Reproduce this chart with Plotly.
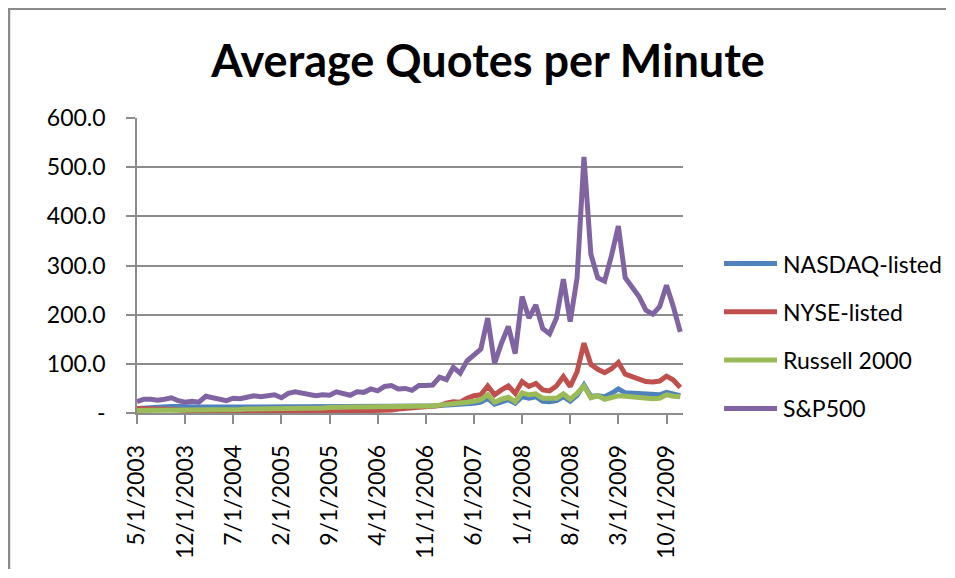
import pandas as pd
import plotly.graph_objects as go

# Monthly categories, 5/1/2003 .. 12/1/2009
months = [f"{d.month}/1/{d.year}" for d in pd.date_range("2003-05-01", "2009-12-01", freq="MS")]
tick_labels = months[::7]

nasdaq = [9, 10, 11, 13, 13, 13, 13, 12, 12, 12, 12, 12, 12, 12, 12, 12, 13, 13, 13, 13,
          14, 14, 14, 13, 13, 12, 12, 12, 13, 13, 13, 13, 13, 13, 13, 14, 14, 14, 14, 14,
          14, 14, 14, 14, 15, 16, 15, 17, 19, 20, 22, 30, 18, 23, 27, 20, 33, 30, 33, 24,
          23, 25, 33, 24, 36, 57, 34, 35, 33, 40, 49, 41, 40, 39, 38, 37, 37, 42, 38, 35]
nyse = [9, 9, 9, 9, 8, 7, 6, 5, 4, 3, 3, 2, 3, 3, 2, 3, 3, 2, 3, 3,
        2, 3, 3, 4, 3, 3, 2, 3, 3, 3, 2, 3, 3, 4, 5, 5, 5, 6, 8, 9,
        10, 11, 11, 12, 15, 20, 23, 22, 30, 35, 37, 55, 37, 47, 55, 40, 64, 54, 60, 47,
        45, 55, 74, 54, 84, 142, 99, 89, 82, 90, 103, 79, 74, 68, 64, 63, 65, 75, 67, 52]
russell = [5, 5, 6, 6, 6, 6, 6, 6, 6, 6, 6, 7, 7, 7, 7, 7, 8, 8, 8, 8,
           8, 8, 8, 8, 8, 8, 8, 10, 11, 12, 12, 12, 12, 12, 13, 13, 14, 14, 14, 14,
           14, 14, 14, 14, 16, 17, 18, 20, 22, 24, 27, 37, 22, 28, 32, 23, 41, 37, 39, 30,
           29, 30, 39, 28, 40, 55, 31, 35, 28, 31, 35, 34, 33, 31, 29, 29, 30, 37, 34, 33]
sp500 = [23, 28, 28, 26, 28, 31, 25, 22, 24, 22, 34, 31, 28, 25, 30, 29, 32, 35, 33, 35,
         37, 31, 40, 43, 41, 38, 35, 37, 36, 43, 39, 36, 43, 42, 49, 45, 54, 56, 49, 50,
         46, 56, 56, 57, 73, 68, 93, 81, 106, 118, 130, 193, 101, 142, 176, 121, 237, 193, 220, 172,
         161, 193, 272, 186, 275, 521, 323, 275, 268, 320, 380, 275, 256, 237, 209, 201, 216, 260, 216, 165]

series_names = ["NASDAQ-listed", "NYSE-listed", "Russell 2000", "S&P500"]
series_values = [nasdaq, nyse, russell, sp500]
series_colors = ["#4F81BD", "#C0504D", "#9BBB59", "#8064A2"]

y_tickvals = [0, 100, 200, 300, 400, 500, 600]
y_ticktext = ["-", "100.0", "200.0", "300.0", "400.0", "500.0", "600.0"]

FONT = "Lato"
GRID = "#8C8C8C"

# page has an 8px body margin, so the figure is drawn 8px in from the top-left;
# keep the figure inside the window so no scrollbars appear
W, H = 939, 562
L, T = 129, 110
PW, PH = 546, 295
R, B = W - L - PW, H - T - PH


def px_x(page_x):
    return (page_x - 8 - L) / PW


def px_y(page_y):
    return (PH + T - (page_y - 8)) / PH


fig = go.Figure()
for name, vals, col in zip(series_names, series_values, series_colors):
    fig.add_trace(go.Scatter(
        x=months, y=vals, name=name, mode="lines",
        line=dict(color=col, width=5),
        showlegend=False,
    ))

# chart-area border (left and top edges) and Excel-style legend
shapes = [
    dict(type="line", xref="paper", yref="paper", x0=px_x(9), x1=px_x(9),
         y0=px_y(6), y1=px_y(569), line=dict(color="#8A8A8A", width=2.5)),
    dict(type="line", xref="paper", yref="paper", x0=px_x(8), x1=px_x(946),
         y0=px_y(8.5), y1=px_y(8.5), line=dict(color="#8A8A8A", width=3)),
]
annotations = []
for k, (name, col) in enumerate(zip(series_names, series_colors)):
    yc = 263.5 + k * 48.3
    shapes.append(dict(type="line", xref="paper", yref="paper",
                       x0=px_x(724), x1=px_x(777), y0=px_y(yc), y1=px_y(yc),
                       line=dict(color=col, width=5)))
    annotations.append(dict(xref="paper", yref="paper", x=px_x(781), y=px_y(yc),
                            text=name, showarrow=False, xanchor="left", yanchor="middle",
                            font=dict(family=FONT, size=23, color="black")))

fig.update_layout(
    width=W, height=H,
    margin=dict(l=L, r=R, t=T, b=B, pad=0),
    paper_bgcolor="white", plot_bgcolor="white",
    font=dict(family=FONT, color="black"),
    title=dict(text="<b>Average Quotes per Minute</b>", x=480 / W, xref="container",
               y=1 - 53 / H, yref="container", xanchor="center", yanchor="middle",
               font=dict(family=FONT, size=45, color="black")),
    showlegend=False,
    shapes=shapes,
    annotations=annotations,
)

fig.update_xaxes(
    type="category", range=[0, 79.4],
    tickmode="array", tickvals=tick_labels, ticktext=tick_labels,
    tickangle=-90, ticks="outside", ticklen=9, tickcolor=GRID, tickwidth=1.5,
    showline=True, linecolor=GRID, linewidth=1.5,
    showgrid=False, zeroline=False,
    tickfont=dict(family=FONT, size=23, color="black"),
    ticklabelstandoff=12,
)
fig.update_yaxes(
    range=[0, 600], tickmode="array", tickvals=y_tickvals, ticktext=y_ticktext,
    ticks="outside", ticklen=9, tickcolor=GRID, tickwidth=1.5,
    showline=True, linecolor=GRID, linewidth=1.5,
    showgrid=True, gridcolor=GRID, gridwidth=1.5, zeroline=False,
    tickfont=dict(family=FONT, size=23, color="black"),
    ticklabelstandoff=16,
)

fig.write_html("out.html", config={"displayModeBar": False})
